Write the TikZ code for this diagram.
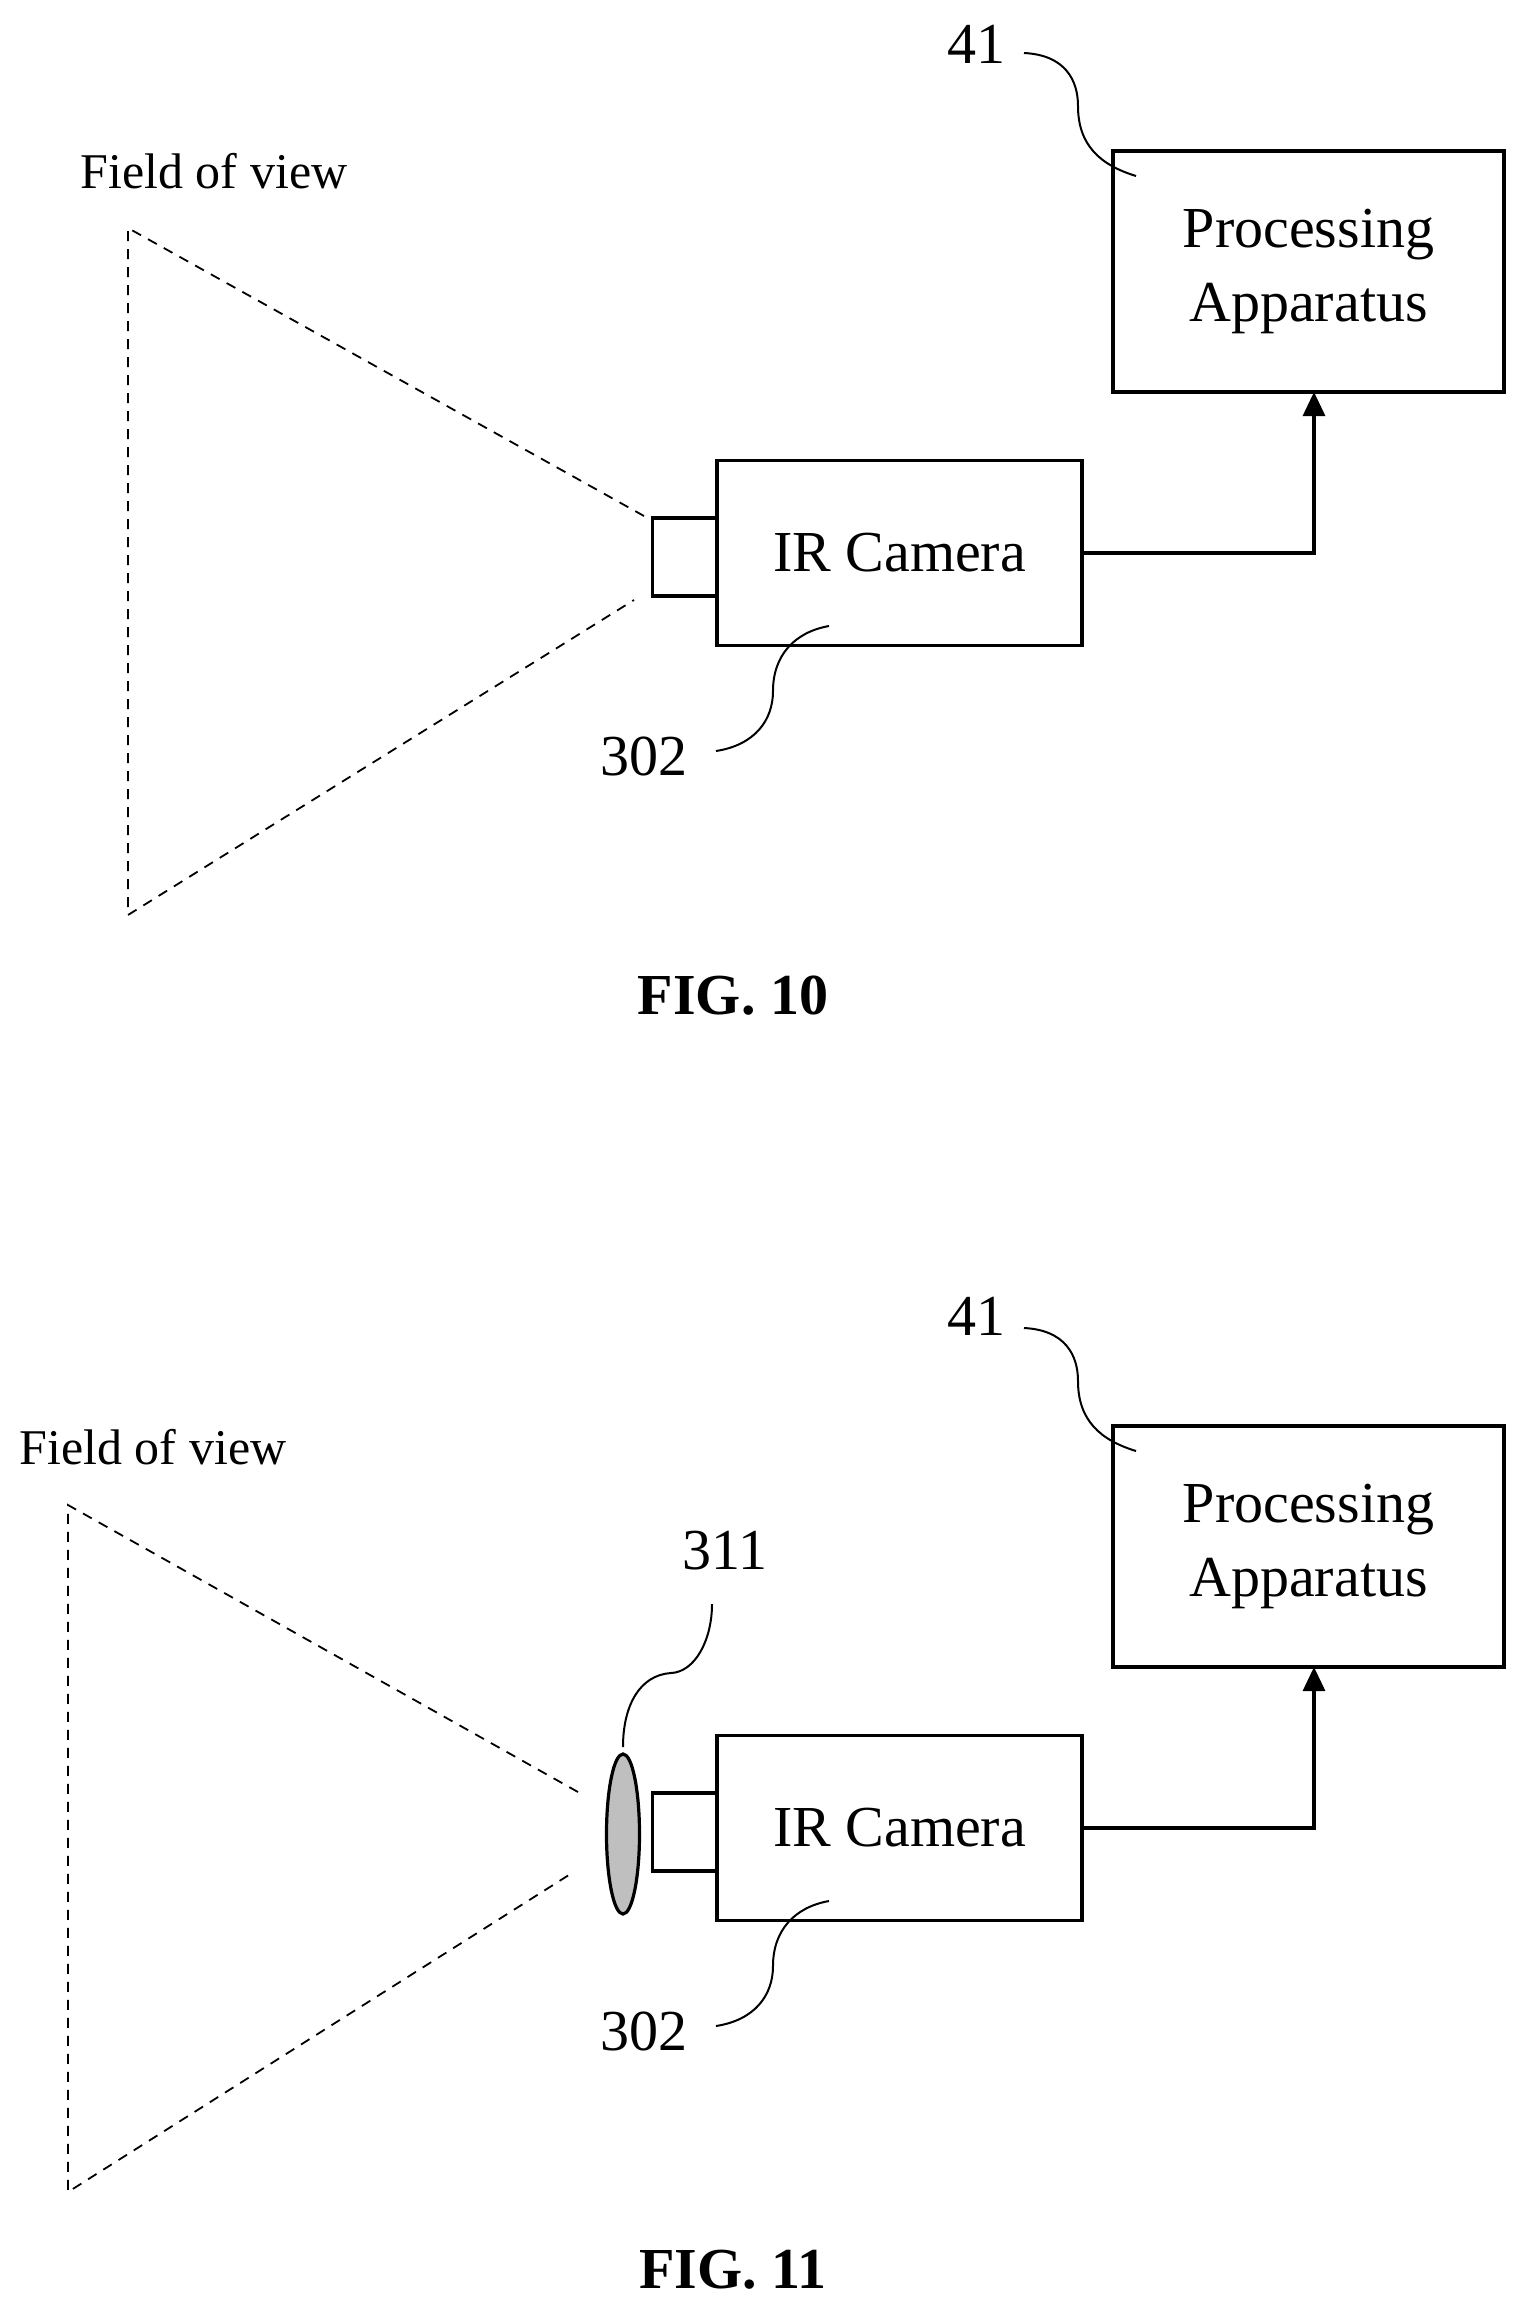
\documentclass[tikz,border=0pt]{standalone}
\usepackage{fontspec}
\setmainfont{Liberation Serif}
\usetikzlibrary{arrows.meta,shapes.geometric}
\begin{document}
\begin{tikzpicture}[
		x=0.5pt, y=-0.5pt,
		box/.style={rectangle, draw, line width=1.6pt, inner sep=0pt, outer sep=0pt, align=center, font=\fontsize{29}{37}\selectfont},
		txt/.style={inner sep=0pt, font=\fontsize{29}{37}\selectfont},
		small/.style={inner sep=0pt, font=\fontsize{25}{30}\selectfont},
		figlabel/.style={inner sep=0pt, font=\fontsize{29}{37}\selectfont\bfseries},
		view/.style={dashed, dash pattern=on 5pt off 4pt, line width=0.9pt},
		arrow/.style={-{Triangle[length=12pt,width=11pt]}, line width=1.6pt},
		lead/.style={line width=1pt}
	]
	\useasboundingbox (0,0) rectangle (1518,2297);

	% FIG. 10
	\node[small] (fov1) at (214,171) {Field of view};
	\coordinate (vt1) at (128,228);
	\coordinate (vb1) at (128,915);
	\coordinate (et1) at (644,516);
	\coordinate (eb1) at (634,600);
	\draw[view] (et1) -- (vt1) -- (vb1) -- (eb1);

	\node[box, minimum width=32.5pt, minimum height=39pt] (lens1) at (685,557) {};
	\node[box, minimum width=182.5pt, minimum height=92.5pt, fill=white] (cam1) at (899.5,553) {IR Camera};
	\node[box, minimum width=195.5pt, minimum height=120.5pt] (proc1) at (1308.5,271.5) {Processing\\Apparatus};
	\draw[arrow] (cam1.east) -| ([xshift=2.75pt]proc1.south);

	\node[txt] (n41a) at (976,44) {41};
	\coordinate (la1) at (1024,53);
	\coordinate (la2) at (1078,106);
	\coordinate (la3) at (1136,176);
	\draw[lead] (la1) .. controls (1065,55) and (1078,80) .. (la2) .. controls (1078,145) and (1100,165) .. (la3);

	\node[txt] (n302a) at (644,756) {302};
	\coordinate (lb1) at (716,751);
	\coordinate (lb2) at (773,691);
	\coordinate (lb3) at (829,626);
	\draw[lead] (lb1) .. controls (755,745) and (773,720) .. (lb2) .. controls (773,655) and (795,632) .. (lb3);

	\node[figlabel] (fig10) at (733,996) {FIG. 10};

	% FIG. 11
	\node[small] (fov2) at (153,1447) {Field of view};
	\coordinate (vt2) at (68,1505);
	\coordinate (vb2) at (68,2192);
	\coordinate (et2) at (578,1792);
	\coordinate (eb2) at (572,1873);
	\draw[view] (et2) -- (vt2) -- (vb2) -- (eb2);

	\node[ellipse, draw, line width=1.6pt, fill=black!25, inner sep=0pt, minimum width=16.5pt, minimum height=80pt] (lens) at (623,1834) {};
	\node[box, minimum width=32.5pt, minimum height=39pt] (lens2) at (685,1832) {};
	\node[box, minimum width=182.5pt, minimum height=92.5pt, fill=white] (cam2) at (899.5,1828) {IR Camera};
	\node[box, minimum width=195.5pt, minimum height=120.5pt] (proc2) at (1308.5,1546.5) {Processing\\Apparatus};
	\draw[arrow] (cam2.east) -| ([xshift=2.75pt]proc2.south);

	\node[txt] (n41b) at (976,1316) {41};
	\coordinate (lc1) at (1024,1328);
	\coordinate (lc2) at (1078,1381);
	\coordinate (lc3) at (1136,1451);
	\draw[lead] (lc1) .. controls (1065,1330) and (1078,1355) .. (lc2) .. controls (1078,1420) and (1100,1440) .. (lc3);

	\node[txt] (n302b) at (644,2031) {302};
	\coordinate (ld1) at (716,2026);
	\coordinate (ld2) at (773,1966);
	\coordinate (ld3) at (829,1901);
	\draw[lead] (ld1) .. controls (755,2020) and (773,1995) .. (ld2) .. controls (773,1930) and (795,1907) .. (ld3);

	\node[txt] (n311) at (725,1551) {311};
	\coordinate (le1) at (712,1604);
	\coordinate (le2) at (671,1673);
	\coordinate (le3) at (623,1747);
	\draw[lead] (le1) .. controls (712,1640) and (695,1672) .. (le2) .. controls (640,1675) and (623,1705) .. (le3);

	\node[figlabel] (fig11) at (733,2270) {FIG. 11};

\end{tikzpicture}
\end{document}
